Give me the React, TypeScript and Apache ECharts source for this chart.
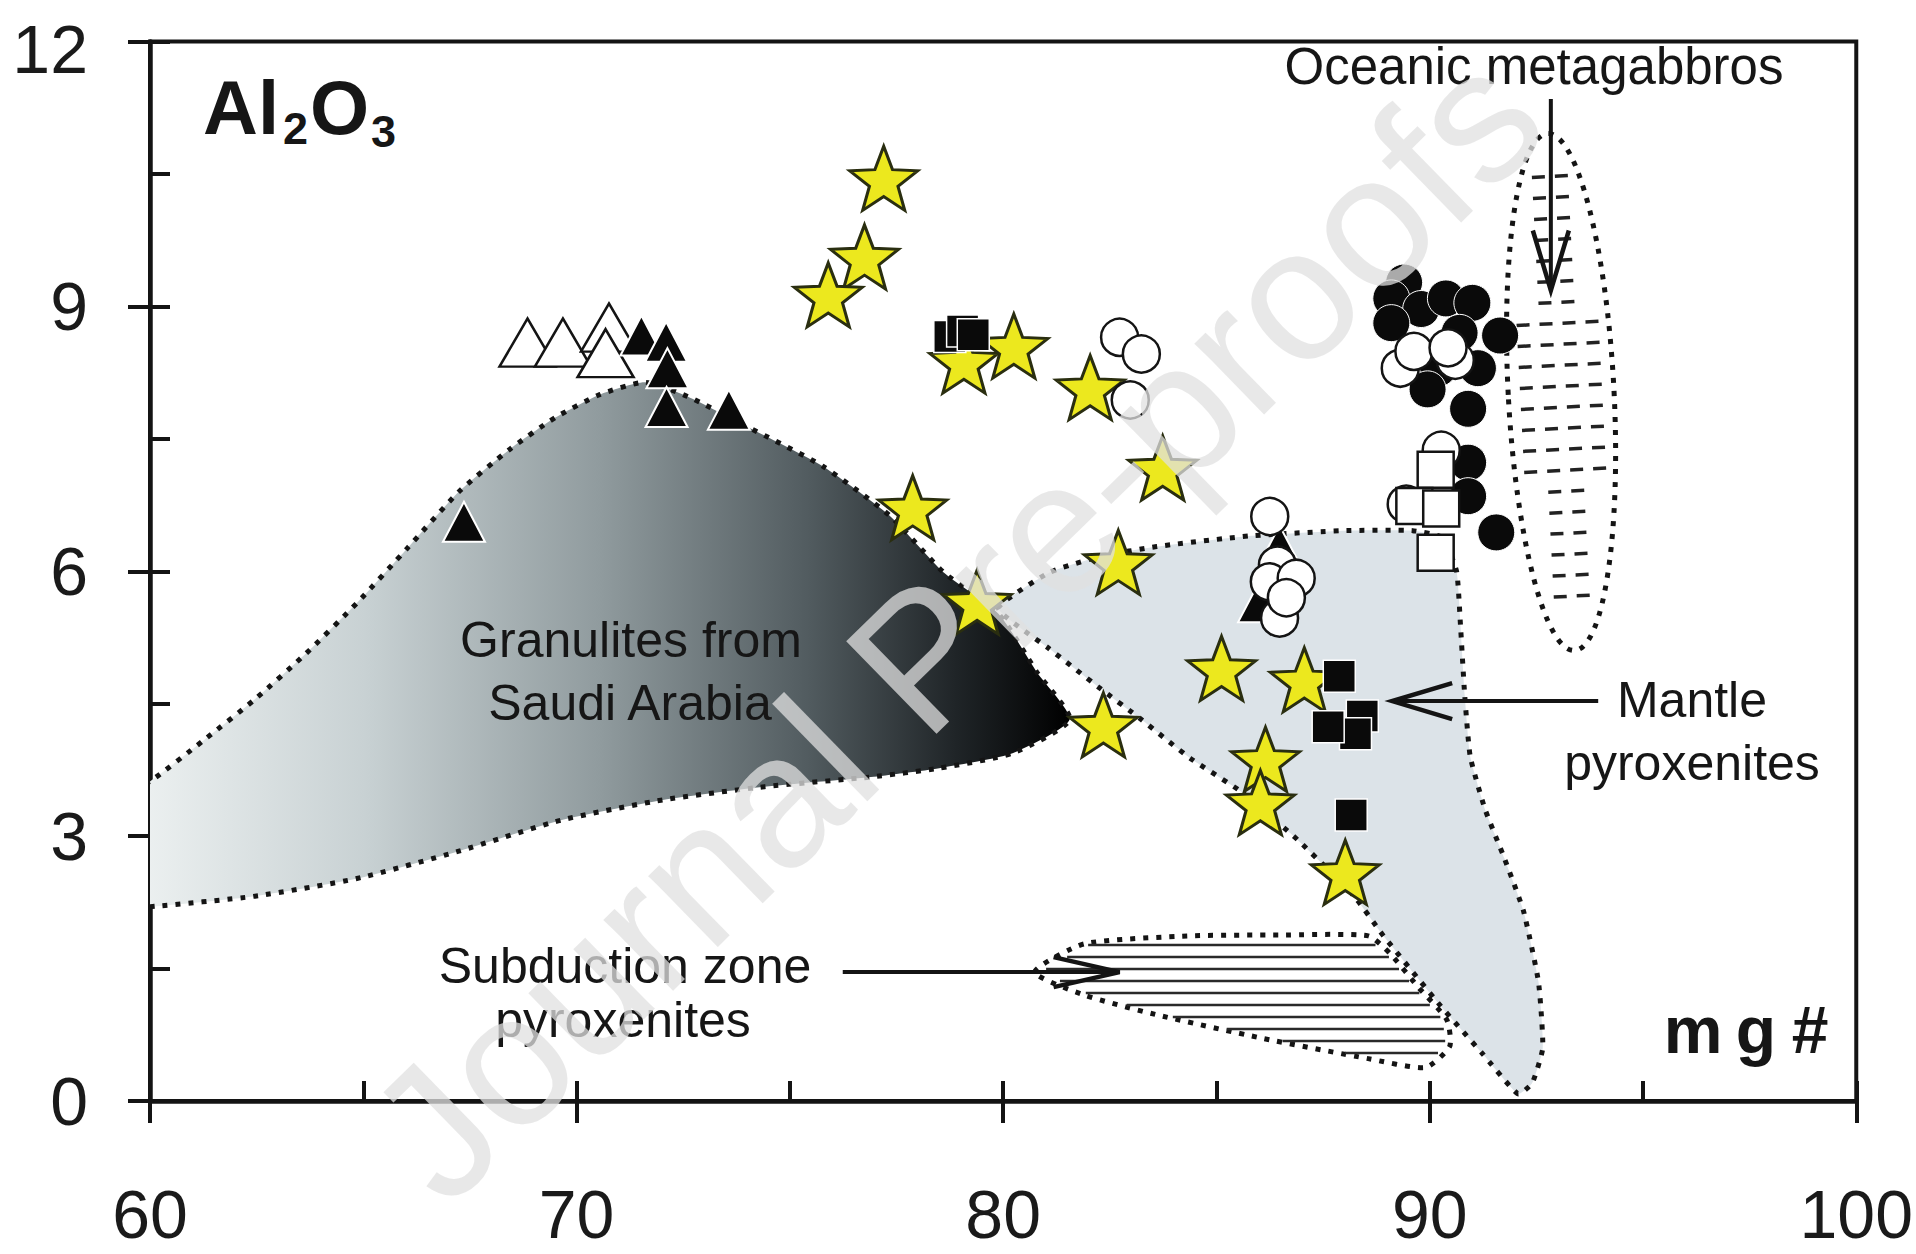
import React, { useEffect, useRef } from "react";
import * as echarts from "echarts";

const FONT = "'Liberation Sans', Arial, Helvetica, sans-serif";

// ---- axes ----
const X_MIN = 60;
const X_MAX = 100;
const X_MAJOR = 10;
const X_MINOR = 5;
const Y_MIN = 0;
const Y_MAX = 12;
const Y_MAJOR = 3;
const Y_MINOR = 1.5;

// ---- field outlines [mg#, Al2O3] ----
const granuliteOutline = [
  [59.6, 3.55], [60, 3.62], [61.27, 4.09], [62.46, 4.55], [63.66, 5.07], [64.85, 5.64], [66.05, 6.27],
  [67.24, 6.9], [68.43, 7.38], [69.5, 7.74], [70.54, 8.0], [71.6, 8.14], [72.6, 7.98],
  [73.99, 7.64], [75.77, 7.19], [77.34, 6.63], [78.6, 5.99], [79.89, 5.52], [80.8, 4.85],
  [81.56, 4.32], [80.22, 3.94], [78.5, 3.77], [76.9, 3.67], [74.41, 3.56], [72.02, 3.41],
  [69.63, 3.18], [67.24, 2.83], [64.85, 2.52], [62.46, 2.32], [60, 2.2], [59.6, 2.2],
];

const mantleOutline = [
  [79.89, 5.58], [81.1, 5.99], [82.3, 6.17], [83.6, 6.28], [85.77, 6.4], [88.0, 6.46],
  [89.6, 6.46], [90.3, 6.38], [90.63, 6.0], [90.72, 5.4], [90.82, 4.6], [90.95, 3.9],
  [91.3, 3.3], [91.75, 2.75], [92.2, 2.15], [92.55, 1.35], [92.65, 0.6], [92.4, 0.2],
  [92.07, 0.08], [91.23, 0.54], [90.25, 1.08], [88.9, 1.88], [88.23, 2.32], [86.9, 2.96],
  [85.56, 3.51], [84.39, 3.88], [83.24, 4.32], [82.23, 4.69], [81.06, 5.13],
];

const subductionOutline = [
  [80.74, 1.46], [81.9, 1.78], [84.4, 1.87], [86.5, 1.88], [88.56, 1.87], [89.07, 1.67],
  [89.73, 1.29], [90.4, 0.92], [90.47, 0.62], [89.9, 0.38], [88.56, 0.48], [86.08, 0.71],
  [83.57, 0.98], [81.9, 1.2],
];

// centre (mg#, Al2O3), half-width, half-height (data units), tilt (degrees)
const oceanicField = [93.08, 8.03, 1.24, 2.93, 3];

// ---- annotation arrows [x1, y1, x2(tip), y2(tip)] ----
const arrowOceanic = [92.84, 11.35, 92.84, 9.18];
const arrowMantle = [93.95, 4.53, 89.12, 4.53];
const arrowSubduction = [76.24, 1.46, 82.73, 1.46];

// ---- samples [mg#, Al2O3] ----
const stars = [
  [77.2, 10.45], [76.75, 9.56], [75.9, 9.13], [79.08, 8.38], [80.25, 8.55], [82.04, 8.08],
  [83.74, 7.17], [77.88, 6.72], [82.7, 6.1], [79.39, 5.65], [82.35, 4.26], [85.12, 4.9],
  [87.06, 4.77], [86.15, 3.87], [86.03, 3.38], [88.02, 2.59],
];
const openTriangles = [[68.85, 8.59], [69.68, 8.59], [70.76, 8.76], [70.68, 8.47]];
const blackTriangles = [
  [71.52, 8.67], [72.1, 8.6], [72.13, 8.3], [72.11, 7.86], [73.57, 7.83], [67.36, 6.56],
  [86.48, 6.29], [86.0, 5.65],
];
const blackCircles = [
  [89.4, 9.27], [89.1, 9.09], [89.8, 8.97], [90.38, 9.09], [91.0, 9.04], [89.1, 8.81],
  [90.7, 8.7], [91.65, 8.67], [91.13, 8.3], [90.2, 8.3], [89.95, 8.06], [90.9, 7.84],
  [90.9, 7.23], [90.9, 6.85], [91.56, 6.44],
];
const openCircles = [
  [82.73, 8.65], [83.24, 8.46], [82.98, 7.94],
  [86.25, 6.62], [86.43, 6.07], [86.24, 5.88], [86.87, 5.92], [86.48, 5.47], [86.64, 5.7],
  [89.31, 8.3], [89.63, 8.49], [90.6, 8.39], [90.43, 8.53], [90.27, 7.37], [89.45, 6.76],
];
const openSquares = [[90.14, 7.15], [89.64, 6.74], [90.27, 6.71], [90.14, 6.21]];
const blackSquares = [
  [78.75, 8.66], [79.05, 8.72], [79.3, 8.68],
  [87.88, 4.81], [88.42, 4.36], [88.26, 4.16], [87.62, 4.24], [88.16, 3.24],
];

const STAR =
  "path://M50,0 L62.34,33 L97.55,34.55 L69.97,56.49 L79.39,90.45 L50,71 L20.61,90.45 L30.03,56.49 L2.45,34.55 L37.66,33 Z";

const INK = "#141414";
const DOT = { stroke: INK, lineWidth: 5, lineDash: [5, 8] };

function regionSeries(name: string, outline: number[][], fill: any, smooth: number, hatch: boolean) {
  return {
    type: "custom",
    name,
    data: outline,
    encode: { x: 0, y: 1 },
    silent: true,
    clip: true,
    z: 2,
    renderItem: (params: any, api: any) => {
      if (params.dataIndex !== 0) return null;
      const pts = outline.map((p) => api.coord(p));
      const children: any[] = [
        { type: "polygon", shape: { points: pts, smooth }, style: { fill, ...DOT } },
      ];
      if (hatch) {
        const ys = pts.map((p: number[]) => p[1]);
        const minY = Math.min(...ys);
        const maxY = Math.max(...ys);
        for (let y = minY + 10; y < maxY - 4; y += 12) {
          const xs: number[] = [];
          for (let i = 0; i < pts.length; i++) {
            const a = pts[i];
            const b = pts[(i + 1) % pts.length];
            if ((a[1] <= y && b[1] > y) || (b[1] <= y && a[1] > y)) {
              xs.push(a[0] + ((y - a[1]) / (b[1] - a[1])) * (b[0] - a[0]));
            }
          }
          xs.sort((p, q) => p - q);
          for (let k = 0; k + 1 < xs.length; k += 2) {
            children.push({
              type: "line",
              shape: { x1: xs[k] + 6, y1: y, x2: xs[k + 1] - 4, y2: y },
              style: { stroke: "#2a2a2a", lineWidth: 2.5 },
            });
          }
        }
      }
      return { type: "group", children };
    },
  };
}

function oceanicSeries() {
  return {
    type: "custom",
    name: "Oceanic metagabbros",
    data: [oceanicField],
    encode: { x: 0, y: 1 },
    silent: true,
    clip: false,
    z: 2,
    renderItem: (params: any, api: any) => {
      const c = api.coord([api.value(0), api.value(1)]);
      const s = api.size([api.value(2), api.value(3)]);
      const rx = s[0];
      const ry = s[1];
      const tilt = (api.value(4) * Math.PI) / 180;
      const children: any[] = [
        { type: "ellipse", shape: { cx: 0, cy: 0, rx, ry }, style: { fill: "#fff", ...DOT } },
      ];
      for (let y = -ry + 22; y < ry - 12; y += 21) {
        const hw = rx * Math.sqrt(1 - (y * y) / (ry * ry)) - 9;
        for (let xc = -34.5; xc <= 34.6; xc += 23) {
          const a = xc - 6.5;
          const b = xc + 6.5;
          if (a >= -hw && b <= hw) {
            children.push({
              type: "line",
              shape: { x1: a, y1: y, x2: b, y2: y },
              style: { stroke: "#222", lineWidth: 3.5 },
            });
          }
        }
      }
      return { type: "group", x: c[0], y: c[1], rotation: tilt, children };
    },
  };
}

function arrowSeries() {
  return {
    type: "custom",
    name: "arrows",
    data: [arrowOceanic, arrowMantle, arrowSubduction],
    encode: { x: [0, 2], y: [1, 3] },
    silent: true,
    clip: false,
    z: 2,
    renderItem: (params: any, api: any) => {
      const p1 = api.coord([api.value(0), api.value(1)]);
      const p2 = api.coord([api.value(2), api.value(3)]);
      const dx = p2[0] - p1[0];
      const dy = p2[1] - p1[1];
      const len = Math.hypot(dx, dy);
      const ux = dx / len;
      const uy = dy / len;
      const nx = -uy;
      const ny = ux;
      const L = params.dataIndex === 2 ? 66 : 60;
      const W = params.dataIndex === 2 ? 15 : 18;
      const bx = p2[0] - ux * L;
      const by = p2[1] - uy * L;
      return {
        type: "group",
        children: [
          { type: "line", shape: { x1: p1[0], y1: p1[1], x2: p2[0], y2: p2[1] }, style: { stroke: INK, lineWidth: 4 } },
          {
            type: "polyline",
            shape: { points: [[bx + nx * W, by + ny * W], [p2[0], p2[1]], [bx - nx * W, by - ny * W]] },
            style: { stroke: INK, lineWidth: 4.5, fill: null },
          },
        ],
      };
    },
  };
}

function scatter(name: string, data: number[][], symbol: string, size: any, fill: string, stroke: string, bw: number) {
  return {
    type: "scatter",
    name,
    data,
    symbol,
    symbolSize: size,
    silent: true,
    z: 3,
    itemStyle: { color: fill, borderColor: stroke, borderWidth: bw, opacity: 1 },
  };
}

function txt(text: string, x: number, y: number, size: number, extra: any = {}) {
  return {
    type: "text",
    z: 100,
    style: {
      text,
      x,
      y,
      fontSize: size,
      fontFamily: FONT,
      fill: "#161616",
      textAlign: "center",
      textVerticalAlign: "middle",
      ...extra,
    },
  };
}

function buildOption() {
  const axisLineStyle = { color: INK, width: 4.5 };
  const tickStyle = { color: INK, width: 4 };
  const granuliteFill = new echarts.graphic.LinearGradient(0, 0, 1, 0, [
    { offset: 0, color: "#eef2f2" },
    { offset: 0.25, color: "#c8d1d3" },
    { offset: 0.5, color: "#909b9e" },
    { offset: 0.72, color: "#525c60" },
    { offset: 0.88, color: "#1f2427" },
    { offset: 1, color: "#000000" },
  ]);
  return {
    animation: false,
    backgroundColor: "#ffffff",
    grid: {
      left: 150,
      top: 31,
      width: 1707,
      height: 1070,
      show: true,
      borderColor: INK,
      borderWidth: 4,
      backgroundColor: "transparent",
    },
    xAxis: [
      {
        type: "value",
        min: X_MIN,
        max: X_MAX,
        interval: X_MAJOR,
        position: "bottom",
        axisLine: { show: true, onZero: false, lineStyle: axisLineStyle },
        axisTick: { show: true, inside: false, length: 22, lineStyle: tickStyle },
        axisLabel: { fontSize: 68, lineHeight: 56, margin: 85, color: "#1a1a1a", fontFamily: FONT },
        splitLine: { show: false },
      },
      {
        type: "value",
        min: X_MIN,
        max: X_MAX,
        interval: X_MINOR,
        position: "bottom",
        axisLine: { show: false },
        axisTick: { show: true, inside: true, length: 20, lineStyle: tickStyle },
        axisLabel: { show: false },
        splitLine: { show: false },
      },
    ],
    yAxis: [
      {
        type: "value",
        min: Y_MIN,
        max: Y_MAX,
        interval: Y_MAJOR,
        position: "left",
        axisLine: { show: true, onZero: false, lineStyle: axisLineStyle },
        axisTick: { show: true, inside: false, length: 22, lineStyle: tickStyle },
        axisLabel: {
          fontSize: 68,
          lineHeight: 56,
          margin: 62,
          color: "#1a1a1a",
          fontFamily: FONT,
          formatter: (v: number) => (v === Y_MAX ? "{top|" + v + "}" : String(v)),
          rich: {
            top: { fontSize: 68, lineHeight: 56, fontFamily: FONT, color: "#1a1a1a", padding: [15, 0, 0, 0] },
          },
        },
        splitLine: { show: false },
      },
      {
        type: "value",
        min: Y_MIN,
        max: Y_MAX,
        interval: Y_MINOR,
        position: "left",
        axisLine: { show: false },
        axisTick: { show: true, inside: true, length: 20, lineStyle: tickStyle },
        axisLabel: { show: false },
        splitLine: { show: false },
      },
    ],
    series: [
      regionSeries("Granulites from Saudi Arabia", granuliteOutline, granuliteFill, 0.2, false),
      regionSeries("Mantle pyroxenites", mantleOutline, "#dce3e8", 0.15, false),
      regionSeries("Subduction zone pyroxenites", subductionOutline, "#ffffff", 0.2, true),
      oceanicSeries(),
      arrowSeries(),
      scatter("stars", stars, STAR, [68, 64], "#ece81e", "#2a2e10", 3),
      scatter("open triangles", openTriangles, "triangle", [56, 48], "#ffffff", INK, 2.5),
      scatter("black triangles", blackTriangles, "triangle", [42, 40], "#0a0a0a", "#ffffff", 2),
      scatter("black circles", blackCircles, "circle", 37, "#0a0a0a", "#ffffff", 1),
      scatter("open circles", openCircles, "circle", 37, "#ffffff", INK, 2.5),
      scatter("open squares", openSquares, "rect", 36, "#ffffff", INK, 2.5),
      scatter("black squares", blackSquares, "rect", 32, "#0a0a0a", "#ffffff", 1.5),
    ],
    graphic: [
      txt("Al", 203, 107, 76, { fontWeight: "bold", textAlign: "left" }),
      txt("2", 283, 128, 45, { fontWeight: "bold", textAlign: "left" }),
      txt("O", 310, 107, 76, { fontWeight: "bold", textAlign: "left" }),
      txt("3", 371, 131, 45, { fontWeight: "bold", textAlign: "left" }),
      txt("m", 1693, 1030, 66, { fontWeight: "bold" }),
      txt("g", 1756, 1030, 66, { fontWeight: "bold" }),
      txt("#", 1810, 1030, 66, { fontWeight: "bold" }),
      txt("Oceanic metagabbros", 1534, 66, 51),
      txt("Granulites from", 631, 640, 50),
      txt("Saudi Arabia", 630, 703, 50),
      txt("Subduction zone", 625, 966, 50),
      txt("pyroxenites", 623, 1020, 50),
      txt("Mantle", 1692, 700, 50),
      txt("pyroxenites", 1692, 763, 50),
      {
        type: "text",
        z: 110,
        x: 955,
        y: 625,
        rotation: 0.773,
        style: {
          text: "Journal Pre-proofs",
          x: 0,
          y: 0,
          fontSize: 188,
          fontFamily: FONT,
          fill: "#e0e0e0",
          opacity: 0.75,
          textAlign: "center",
          textVerticalAlign: "middle",
        },
      },
    ],
  };
}

export default function App() {
  const ref = useRef<HTMLDivElement>(null);
  useEffect(() => {
    if (!ref.current) return;
    const chart = echarts.init(ref.current, null, { renderer: "svg" });
    chart.setOption(buildOption() as any);
    return () => chart.dispose();
  }, []);
  return (
    <div
      ref={ref}
      style={{ position: "fixed", left: 0, top: 0, width: 1916, height: 1254, background: "#fff" }}
    />
  );
}
